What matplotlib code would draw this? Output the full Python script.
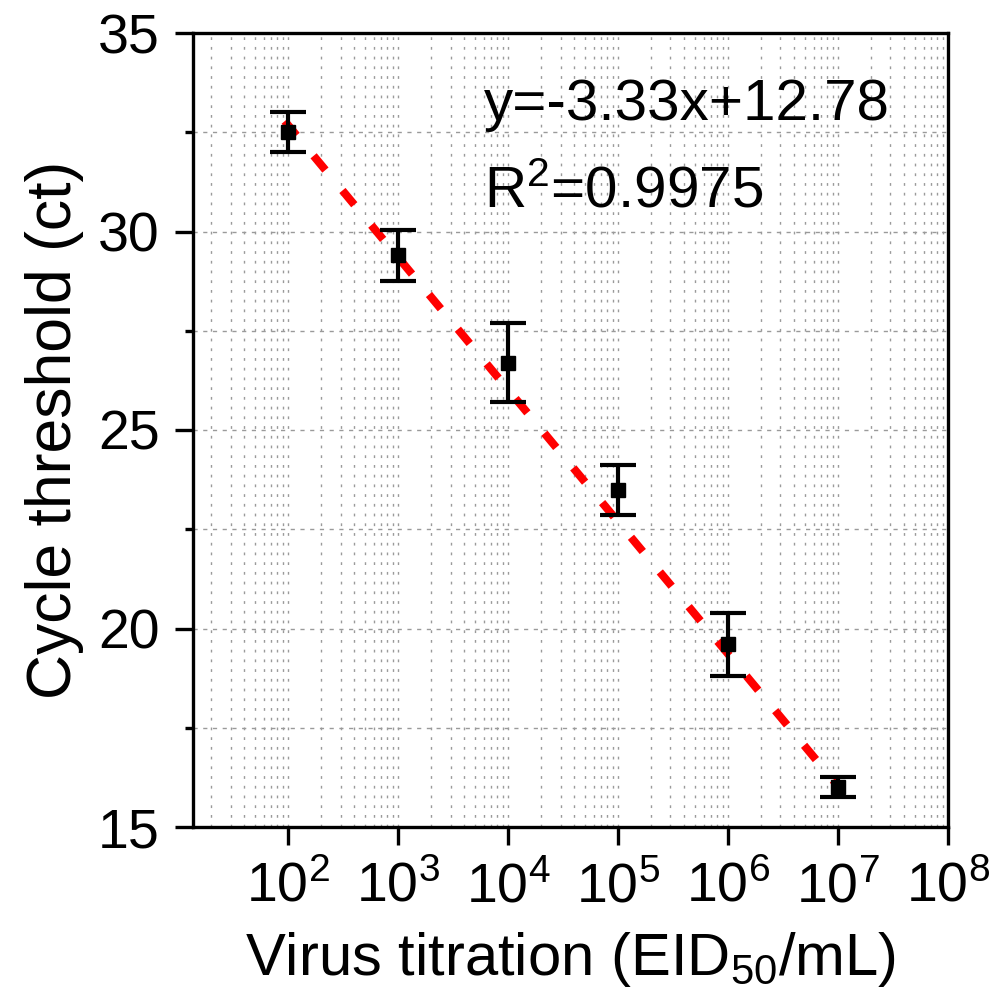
import numpy as np
import matplotlib
matplotlib.use("Agg")
import matplotlib.pyplot as plt
from matplotlib.ticker import LogLocator, LogFormatterSciNotation, MultipleLocator, NullFormatter

plt.rcParams['font.family'] = ['Liberation Sans', 'DejaVu Sans']
plt.rcParams['mathtext.fontset'] = 'custom'
plt.rcParams['mathtext.rm'] = 'Liberation Sans'
plt.rcParams['mathtext.it'] = 'Liberation Sans:italic'
plt.rcParams['mathtext.default'] = 'regular'

# Virus titration (EID50/mL) and measured cycle thresholds
titration = [1e2, 1e3, 1e4, 1e5, 1e6, 1e7]
ct_mean = [32.5, 29.4, 26.7, 23.5, 19.6, 16.0]
ct_err = [0.5, 0.65, 1.0, 0.63, 0.8, 0.25]

# Standard-curve fit: Ct against log10(titration)
fit_slope = -3.33
fit_intercept = 39.34
fit_range = [10**1.97, 1e7]
equation_text = "y=-3.33x+12.78"
r2_text = "R$^{2}$=0.9975"

fig = plt.figure(figsize=(9.89, 10.08), dpi=100)
ax = fig.add_axes([193/989, 1 - 827/1008, 755/989, 794/1008])

ax.set_xscale('log')
ax.set_xlim(10**1.136, 1e8)
ax.set_ylim(15, 35)

# ticks and grid
ax.xaxis.set_major_locator(LogLocator(base=10, numticks=20))
ax.xaxis.set_minor_locator(LogLocator(base=10, subs=np.arange(2, 10), numticks=20))
ax.xaxis.set_major_formatter(LogFormatterSciNotation())
ax.xaxis.set_minor_formatter(NullFormatter())
ax.yaxis.set_major_locator(MultipleLocator(5))
ax.yaxis.set_minor_locator(MultipleLocator(2.5))

ax.grid(True, axis='x', which='both', color='#9a9a9a', linestyle=(0, (2, 5)), linewidth=1.0)
ax.grid(True, axis='y', which='both', color='#9a9a9a', linestyle=(0, (3, 4)), linewidth=1.0)
ax.set_axisbelow(True)

# fitted line
xf = np.array(fit_range)
yf = fit_slope * np.log10(xf) + fit_intercept
ax.plot(xf, yf, color='#ff0000', linewidth=5.8, linestyle=(0, (2.3, 3.3)),
        dash_capstyle='butt', zorder=3)

# data with error bars
ax.errorbar(titration, ct_mean, yerr=ct_err, fmt='s', color='black',
            markersize=10, ecolor='black', elinewidth=3.0, capsize=13,
            capthick=3.0, zorder=4)

ax.text(0.385, 0.89, equation_text, transform=ax.transAxes, fontsize=42,
        ha='left', va='baseline')
ax.text(0.385, 0.78, r2_text, transform=ax.transAxes, fontsize=42,
        ha='left', va='baseline')

for s in ax.spines.values():
    s.set_linewidth(2.4)
ax.tick_params(axis='both', which='major', direction='out', length=13, width=2.4,
               labelsize=40)
ax.tick_params(axis='y', which='major', pad=11)
ax.tick_params(axis='x', which='major', pad=12)
ax.tick_params(axis='y', which='minor', direction='out', length=6, width=2.4)
ax.tick_params(axis='x', which='minor', length=0)

ax.set_ylabel('Cycle threshold (ct)', fontsize=45, labelpad=10)
ax.set_xlabel('Virus titration (EID$_{50}$/mL)', fontsize=43, labelpad=12)

fig.savefig('out.png', dpi=100)
